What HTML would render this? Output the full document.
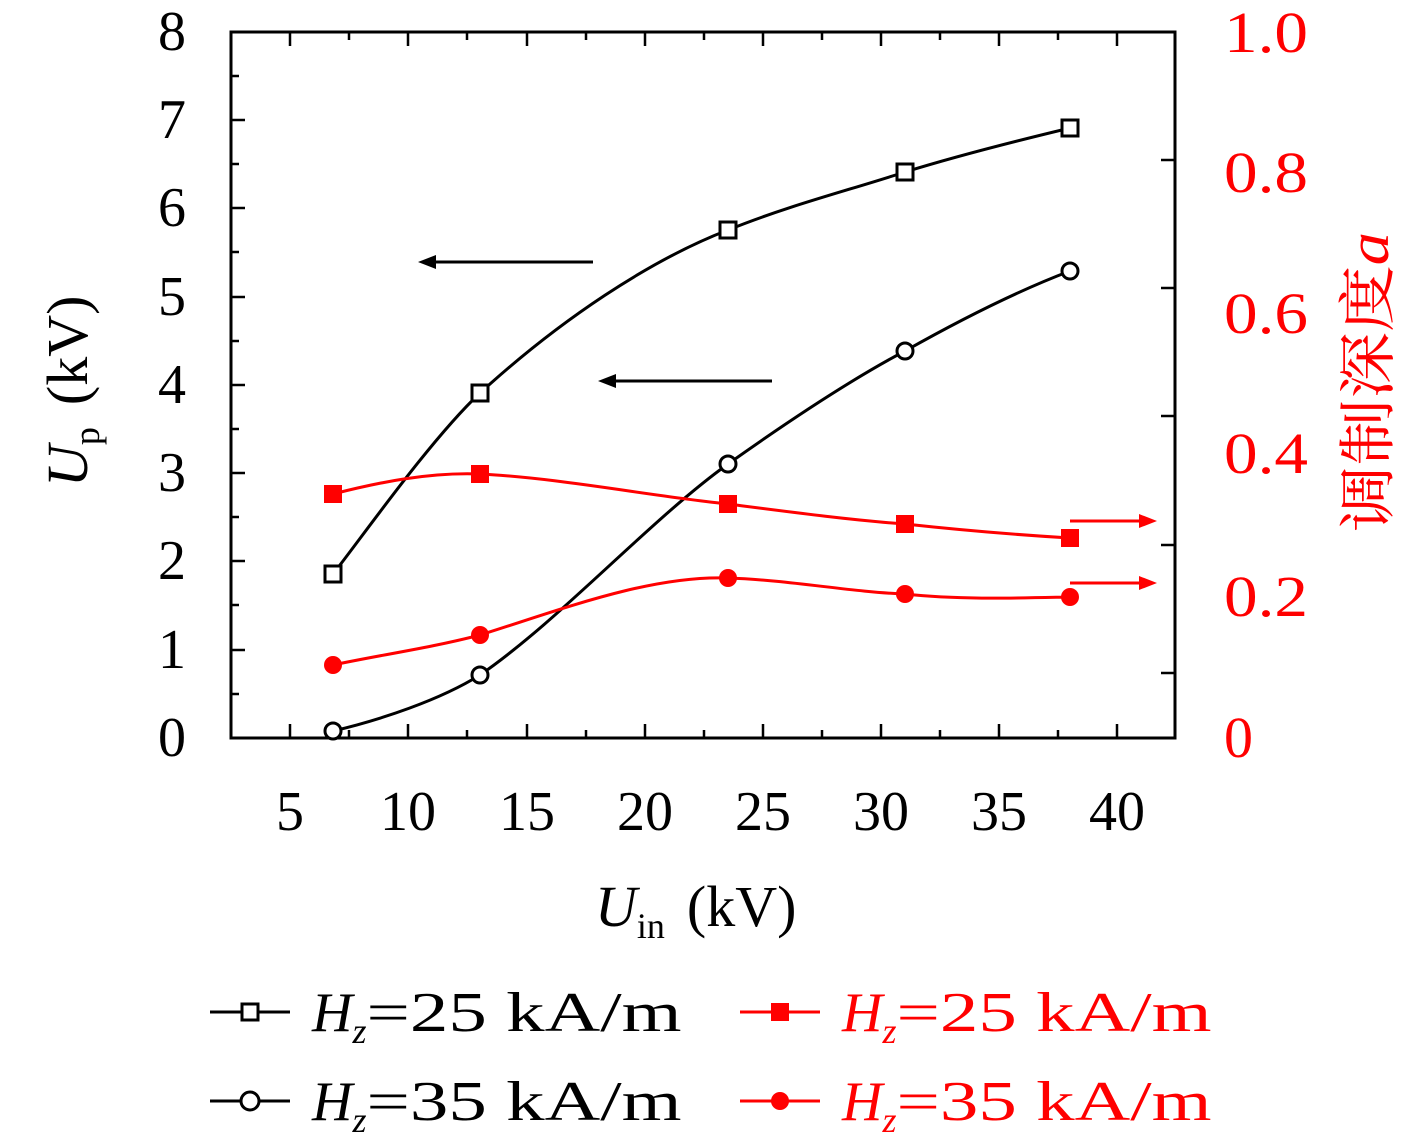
<!DOCTYPE html>
<html><head><meta charset="utf-8"><style>
html,body{margin:0;padding:0;background:#fff;}
svg{display:block;font-family:"Liberation Serif","Noto Serif CJK SC",serif;}
</style></head><body>
<svg width="1417" height="1146" viewBox="0 0 1417 1146" xmlns="http://www.w3.org/2000/svg">
<rect x="231" y="32" width="944" height="706" fill="none" stroke="#000" stroke-width="3"/>
<g stroke="#000" stroke-width="2.5">
<path d="M290,738v-14M408,738v-14M527,738v-14M645,738v-14M763,738v-14M881,738v-14M999,738v-14M1117,738v-14
M290,32v14M408,32v14M527,32v14M645,32v14M763,32v14M881,32v14M999,32v14M1117,32v14
M349,738v-8M467,738v-8M586,738v-8M704,738v-8M822,738v-8M940,738v-8M1058,738v-8
M349,32v8M467,32v8M586,32v8M704,32v8M822,32v8M940,32v8M1058,32v8"/>
<path d="M231,650h14M231,561h14M231,473h14M231,385h14M231,297h14M231,208h14M231,120h14
M231,694h8M231,605h8M231,517h8M231,429h8M231,341h8M231,252h8M231,164h8M231,76h8"/>
<path d="M1175,160h-14M1175,288h-14M1175,416h-14M1175,545h-14M1175,673h-14"/>
</g>
<g font-size="56" text-anchor="middle" fill="#000">
<text x="290" y="830">5</text><text x="408" y="830">10</text><text x="527" y="830">15</text><text x="645" y="830">20</text>
<text x="763" y="830">25</text><text x="881" y="830">30</text><text x="999" y="830">35</text><text x="1117" y="830">40</text>
</g>
<g font-size="56" text-anchor="end" fill="#000">
<text x="186" y="756">0</text><text x="186" y="668">1</text><text x="186" y="579">2</text><text x="186" y="491">3</text>
<text x="186" y="403">4</text><text x="186" y="315">5</text><text x="186" y="226">6</text><text x="186" y="138">7</text><text x="186" y="50">8</text>
</g>
<g font-size="58" fill="#f00">
<text x="1224" y="757">0</text><text x="1224" y="616" textLength="84" lengthAdjust="spacingAndGlyphs">0.2</text><text x="1224" y="473" textLength="84" lengthAdjust="spacingAndGlyphs">0.4</text>
<text x="1224" y="333" textLength="84" lengthAdjust="spacingAndGlyphs">0.6</text><text x="1224" y="192" textLength="84" lengthAdjust="spacingAndGlyphs">0.8</text><text x="1224" y="52" textLength="84" lengthAdjust="spacingAndGlyphs">1.0</text>
</g>
<text x="595" y="926" font-size="58"><tspan font-style="italic">U</tspan><tspan font-size="36" dy="12">in</tspan><tspan dy="-12" dx="22">(kV)</tspan></text>
<text transform="translate(87,487) rotate(-90)" font-size="58"><tspan font-style="italic">U</tspan><tspan font-size="36" dy="12">p</tspan><tspan dy="-12" dx="22">(kV)</tspan></text>
<text transform="translate(1388,532) rotate(-90)" font-size="58" fill="#f00" textLength="300" lengthAdjust="spacingAndGlyphs">调制深度<tspan font-style="italic">a</tspan></text>
<g fill="none" stroke-width="3">
<path stroke="#000" d="M333,574 C360,540 430,440 480,393 C560,320 650,260 728,230 C790,205 850,190 905,172 C960,155 1020,140 1070,128"/>
<path stroke="#000" d="M333,731 C380,720 440,700 480,675 C560,620 650,520 728,464 C790,420 850,380 905,351 C960,320 1020,290 1070,271"/>
<path stroke="#f00" d="M333,494 C380,482 430,472 480,474 C560,478 650,496 728,504 C790,512 850,520 905,524 C960,530 1020,535 1070,538"/>
<path stroke="#f00" d="M333,665 C380,655 430,648 480,635 C560,610 650,575 728,578 C790,580 850,592 905,594 C960,600 1020,598 1070,597"/>
</g>
<g fill="#fff" stroke="#000" stroke-width="3">
<rect x="325" y="566" width="16" height="16"/><rect x="472" y="385" width="16" height="16"/><rect x="720" y="222" width="16" height="16"/><rect x="897" y="164" width="16" height="16"/><rect x="1062" y="120" width="16" height="16"/>
<circle cx="333" cy="731" r="8"/><circle cx="480" cy="675" r="8"/><circle cx="728" cy="464" r="8"/><circle cx="905" cy="351" r="8"/><circle cx="1070" cy="271" r="8"/>
</g>
<g fill="#f00">
<rect x="324" y="485" width="18" height="18"/><rect x="471" y="465" width="18" height="18"/><rect x="719" y="495" width="18" height="18"/><rect x="896" y="515" width="18" height="18"/><rect x="1061" y="529" width="18" height="18"/>
<circle cx="333" cy="665" r="9"/><circle cx="480" cy="635" r="9"/><circle cx="728" cy="578" r="9"/><circle cx="905" cy="594" r="9"/><circle cx="1070" cy="597" r="9"/>
</g>
<g stroke-width="3">
<line x1="593" y1="262" x2="430" y2="262" stroke="#000"/><path d="M418,262 L436,255 L436,269 Z" fill="#000"/>
<line x1="772" y1="381" x2="610" y2="381" stroke="#000"/><path d="M598,381 L616,374 L616,388 Z" fill="#000"/>
<line x1="1070" y1="521" x2="1140" y2="521" stroke="#f00"/><path d="M1157,521 L1139,514 L1139,528 Z" fill="#f00"/>
<line x1="1070" y1="583" x2="1140" y2="583" stroke="#f00"/><path d="M1157,583 L1139,576 L1139,590 Z" fill="#f00"/>
</g>
<g stroke-width="3">
<line x1="210" y1="1012" x2="290" y2="1012" stroke="#000"/><rect x="242" y="1004" width="16" height="16" fill="#fff" stroke="#000"/>
<line x1="210" y1="1101" x2="290" y2="1101" stroke="#000"/><circle cx="250" cy="1101" r="9" fill="#fff" stroke="#000"/>
<line x1="740" y1="1012" x2="820" y2="1012" stroke="#f00"/><rect x="771" y="1003" width="18" height="18" fill="#f00" stroke="none"/>
<line x1="740" y1="1101" x2="820" y2="1101" stroke="#f00"/><circle cx="780" cy="1101" r="9" fill="#f00" stroke="none"/>
</g>
<g font-size="56">
<text x="312" y="1031"><tspan font-style="italic">H</tspan><tspan font-style="italic" font-size="36" dy="12">z</tspan><tspan dy="-12" textLength="315" lengthAdjust="spacingAndGlyphs">=25 kA/m</tspan></text>
<text x="312" y="1120"><tspan font-style="italic">H</tspan><tspan font-style="italic" font-size="36" dy="12">z</tspan><tspan dy="-12" textLength="315" lengthAdjust="spacingAndGlyphs">=35 kA/m</tspan></text>
<text x="842" y="1031" fill="#f00"><tspan font-style="italic">H</tspan><tspan font-style="italic" font-size="36" dy="12">z</tspan><tspan dy="-12" textLength="315" lengthAdjust="spacingAndGlyphs">=25 kA/m</tspan></text>
<text x="842" y="1120" fill="#f00"><tspan font-style="italic">H</tspan><tspan font-style="italic" font-size="36" dy="12">z</tspan><tspan dy="-12" textLength="315" lengthAdjust="spacingAndGlyphs">=35 kA/m</tspan></text>
</g>
</svg>
</body></html>
